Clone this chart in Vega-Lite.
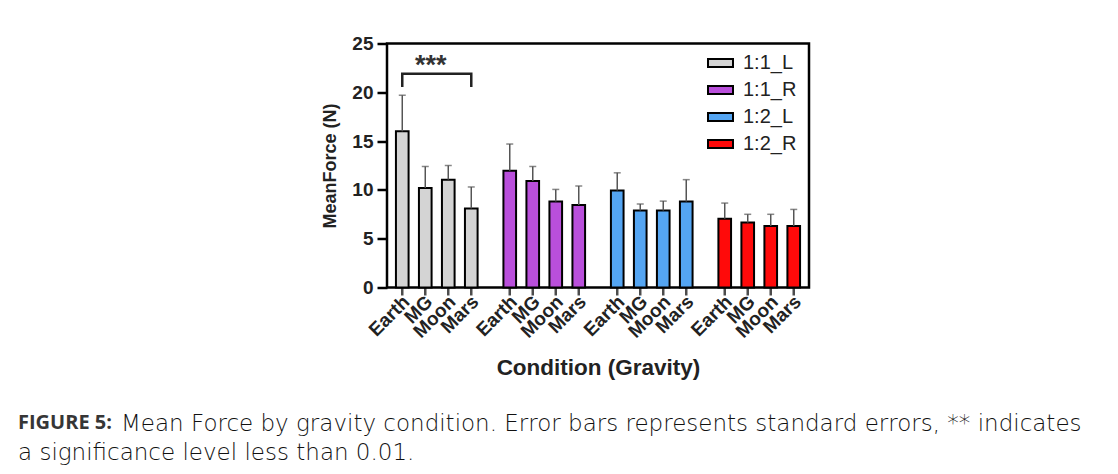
{
  "$schema": "https://vega.github.io/schema/vega-lite/v6.json",
  "autosize": {"type": "pad"},
  "padding": {"left": 18, "top": 32.5, "right": 5, "bottom": 5},
  "background": "white",
  "config": {
    "view": {"stroke": "black", "strokeWidth": 2.5},
    "font": "Liberation Sans"
  },
  "title": {
    "text": "FIGURE 5:",
    "subtitle": "a significance level less than 0.01.",
    "orient": "bottom",
    "anchor": "start",
    "frame": "group",
    "dx": -369,
    "offset": -24,
    "font": "Open Sans",
    "fontSize": 20,
    "fontWeight": "bold",
    "color": "#363636",
    "subtitleFont": "DejaVu Sans",
    "subtitleFontSize": 23,
    "subtitleFontWeight": 200,
    "subtitleColor": "#111111",
    "subtitlePadding": 9
  },
  "datasets": {
    "bars": [
      {"group": "1:1_L", "condition": "Earth", "mean": 16.0, "upper": 19.7},
      {"group": "1:1_L", "condition": "MG", "mean": 10.2, "upper": 12.4},
      {"group": "1:1_L", "condition": "Moon", "mean": 11.05, "upper": 12.5},
      {"group": "1:1_L", "condition": "Mars", "mean": 8.1, "upper": 10.3},
      {"group": "1:1_R", "condition": "Earth", "mean": 11.95, "upper": 14.7},
      {"group": "1:1_R", "condition": "MG", "mean": 10.9, "upper": 12.4},
      {"group": "1:1_R", "condition": "Moon", "mean": 8.8, "upper": 10.05},
      {"group": "1:1_R", "condition": "Mars", "mean": 8.45, "upper": 10.4},
      {"group": "1:2_L", "condition": "Earth", "mean": 9.95, "upper": 11.75},
      {"group": "1:2_L", "condition": "MG", "mean": 7.9, "upper": 8.55},
      {"group": "1:2_L", "condition": "Moon", "mean": 7.9, "upper": 8.85},
      {"group": "1:2_L", "condition": "Mars", "mean": 8.8, "upper": 11.05},
      {"group": "1:2_R", "condition": "Earth", "mean": 7.05, "upper": 8.65},
      {"group": "1:2_R", "condition": "MG", "mean": 6.65, "upper": 7.5},
      {"group": "1:2_R", "condition": "Moon", "mean": 6.3, "upper": 7.5},
      {"group": "1:2_R", "condition": "Mars", "mean": 6.3, "upper": 8.0}
    ],
    "bracket": [
      {"group": "1:1_L", "condition": "Earth", "y": 20.55, "step": 1},
      {"group": "1:1_L", "condition": "Earth", "y": 21.9, "step": 2},
      {"group": "1:1_L", "condition": "Mars", "y": 21.9, "step": 3},
      {"group": "1:1_L", "condition": "Mars", "y": 20.55, "step": 4}
    ],
    "stars": [
      {"group": "1:1_L", "label": "***", "y": 23.2}
    ]
  },
  "vconcat": [
    {
      "width": 422,
      "height": 244,
      "title": {
        "text": "Mean Force by gravity condition. Error bars represents standard errors, ** indicates",
        "orient": "bottom",
        "anchor": "start",
        "frame": "group",
        "dx": -266,
        "offset": 34,
        "font": "DejaVu Sans",
        "fontSize": 23,
        "fontWeight": 200,
        "color": "#111111"
      },
      "encoding": {
        "x": {
          "field": "group",
          "type": "nominal",
          "sort": ["1:1_L", "1:1_R", "1:2_L", "1:2_R"],
          "scale": {"paddingInner": 0.144, "paddingOuter": 0.035},
          "axis": {
            "labels": false,
            "ticks": false,
            "domain": false,
            "title": "Condition (Gravity)",
            "titleFont": "Liberation Sans",
            "titleFontSize": 22.5,
            "titleFontWeight": "bold",
            "titleColor": "#222222",
            "titlePadding": 69
          }
        }
      },
      "layer": [
        {
          "data": {"name": "bars"},
          "mark": {"type": "bar", "stroke": "black", "strokeWidth": 2},
          "encoding": {
            "xOffset": {
              "field": "condition",
              "type": "nominal",
              "sort": ["Earth", "MG", "Moon", "Mars"],
              "scale": {"paddingInner": 0.45, "paddingOuter": 0.225}
            },
            "y": {
              "field": "mean",
              "type": "quantitative",
              "scale": {"domain": [0, 25], "nice": false},
              "axis": {
                "values": [0, 5, 10, 15, 20, 25],
                "labelFont": "Liberation Sans",
                "labelFontSize": 19,
                "labelFontWeight": "bold",
                "labelColor": "#222222",
                "labelPadding": 4,
                "tickColor": "black",
                "tickWidth": 2.5,
                "tickSize": 10,
                "domain": false,
                "grid": false,
                "title": "MeanForce (N)",
                "titleFont": "Liberation Sans",
                "titleFontSize": 18,
                "titleFontWeight": "bold",
                "titleColor": "#222222",
                "titlePadding": 12
              }
            },
            "color": {
              "field": "group",
              "type": "nominal",
              "scale": {
                "domain": ["1:1_L", "1:1_R", "1:2_L", "1:2_R"],
                "range": ["#d4d4d4", "#b94fdb", "#54a5f2", "#ff0a0a"]
              },
              "legend": {
                "title": null,
                "orient": "none",
                "legendX": 320,
                "legendY": 6,
                "symbolType": "M-1,-0.32H1V0.32H-1Z",
                "symbolSize": 625,
                "symbolStrokeColor": "black",
                "symbolStrokeWidth": 2,
                "symbolOpacity": 1,
                "labelFont": "Liberation Sans",
                "labelFontSize": 20,
                "labelColor": "#222222",
                "labelOffset": 9,
                "rowPadding": 3
              }
            }
          }
        },
        {
          "data": {"name": "bars"},
          "mark": {"type": "rule", "color": "#555555", "strokeWidth": 1.5},
          "encoding": {
            "xOffset": {"field": "condition", "type": "nominal", "sort": ["Earth", "MG", "Moon", "Mars"]},
            "y": {"field": "mean", "type": "quantitative"},
            "y2": {"field": "upper"}
          }
        },
        {
          "data": {"name": "bars"},
          "mark": {"type": "tick", "color": "#555555", "size": 7, "thickness": 1.5, "orient": "horizontal"},
          "encoding": {
            "xOffset": {"field": "condition", "type": "nominal", "sort": ["Earth", "MG", "Moon", "Mars"]},
            "y": {"field": "upper", "type": "quantitative"}
          }
        },
        {
          "data": {"name": "bars"},
          "mark": {"type": "tick", "color": "black", "size": 8, "thickness": 2.5, "orient": "vertical", "yOffset": 4},
          "encoding": {
            "xOffset": {"field": "condition", "type": "nominal", "sort": ["Earth", "MG", "Moon", "Mars"]},
            "y": {"datum": 0, "type": "quantitative"}
          }
        },
        {
          "data": {"name": "bars"},
          "mark": {"type": "text", "angle": -45, "align": "right", "baseline": "middle", "dx": -5, "dy": 11, "font": "Liberation Sans", "fontSize": 19, "fontWeight": "bold", "color": "#222222"},
          "encoding": {
            "xOffset": {"field": "condition", "type": "nominal", "sort": ["Earth", "MG", "Moon", "Mars"]},
            "y": {"datum": 0, "type": "quantitative"},
            "text": {"field": "condition"}
          }
        },
        {
          "data": {"name": "bracket"},
          "mark": {"type": "line", "color": "#222222", "strokeWidth": 2.5},
          "encoding": {
            "xOffset": {"field": "condition", "type": "nominal", "sort": ["Earth", "MG", "Moon", "Mars"]},
            "y": {"field": "y", "type": "quantitative"},
            "order": {"field": "step"}
          }
        },
        {
          "data": {"name": "stars"},
          "mark": {"type": "text", "font": "Liberation Sans", "fontSize": 27, "fontWeight": "bold", "color": "#333333", "baseline": "middle", "dy": 5, "dx": -6},
          "encoding": {
            "y": {"field": "y", "type": "quantitative"},
            "text": {"field": "label"}
          }
        }
      ]
    }
  ]
}
